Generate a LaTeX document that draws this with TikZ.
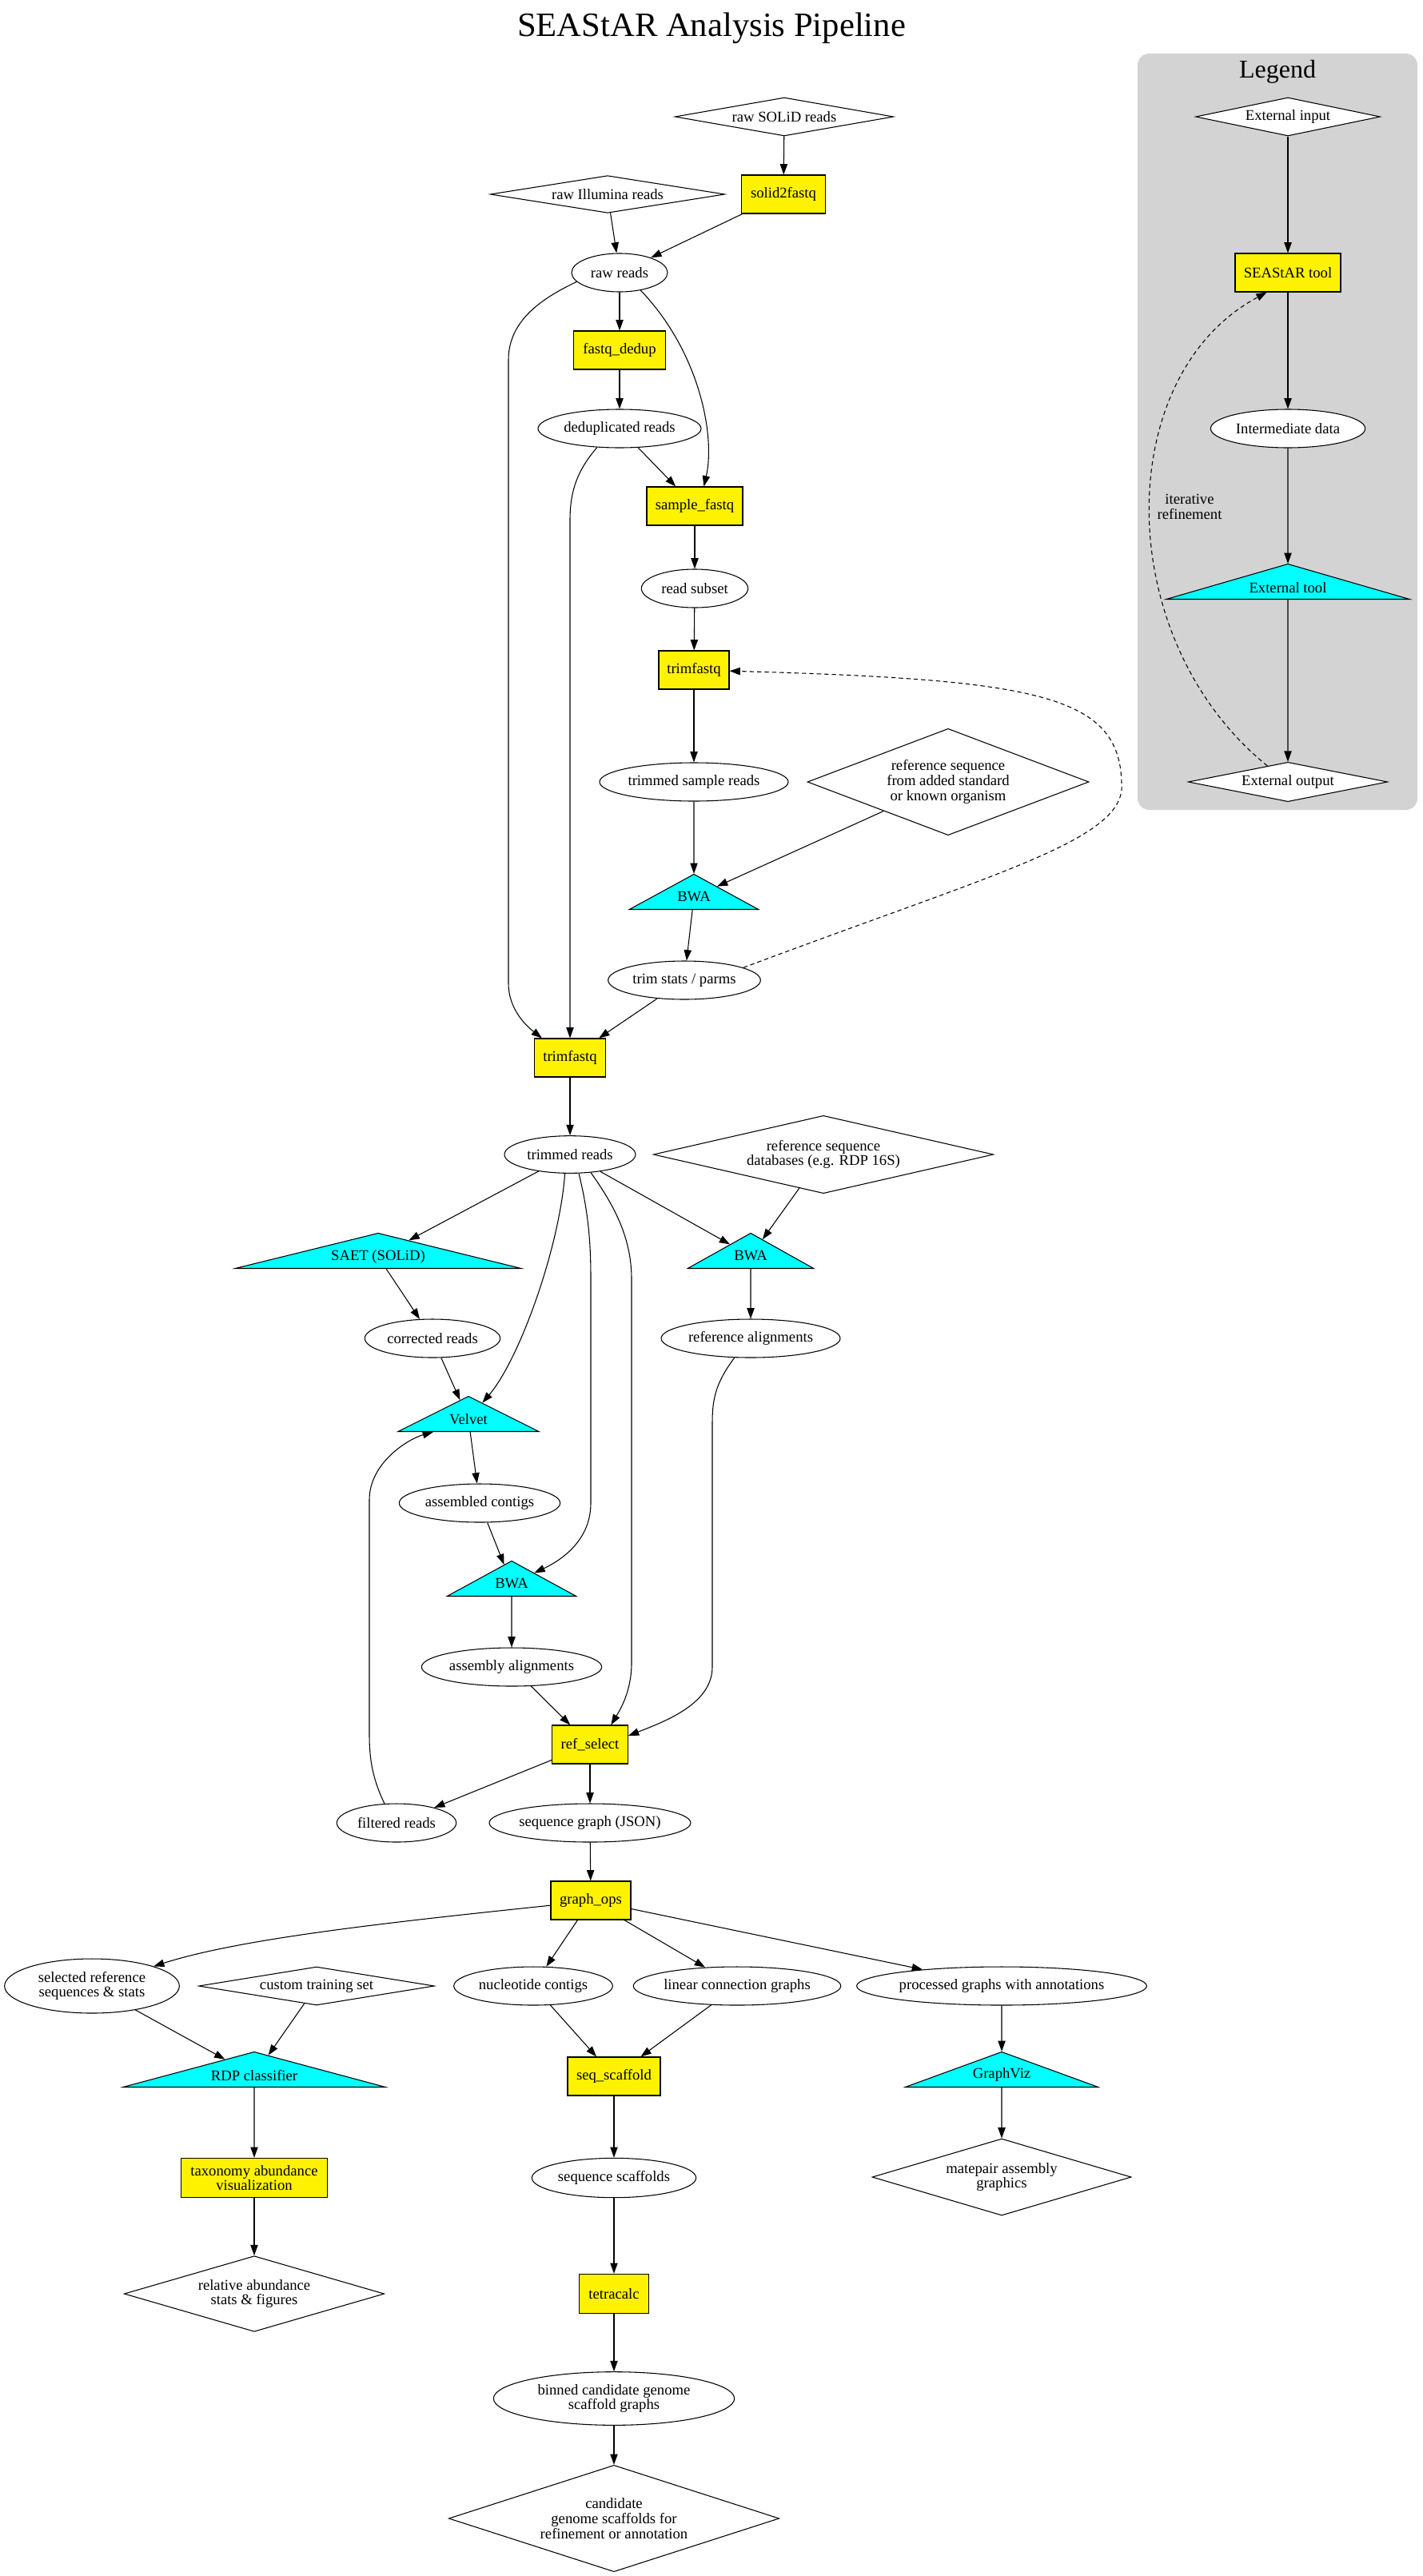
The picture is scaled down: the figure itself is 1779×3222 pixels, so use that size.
\documentclass[tikz,border=0pt]{standalone}
\usepackage{fontspec}
\setmainfont{Liberation Serif}
\usetikzlibrary{shapes.geometric,arrows.meta}
\definecolor{gvcyan}{RGB}{0,255,255}
\definecolor{gvgray}{RGB}{211,211,211}

\begin{document}
\begin{tikzpicture}[
    x=0.75pt, y=0.75pt,
    font=\fontsize{14}{14}\selectfont,
    box/.style={rectangle, draw, fill=yellow, line width=0.8pt, inner sep=0pt, minimum height=36pt, align=center},
    dat/.style={ellipse, draw, fill=white, line width=0.8pt, inner sep=0pt, minimum height=36pt, align=center},
    inout/.style={diamond, draw, fill=white, line width=0.8pt, inner sep=0pt, align=center},
    ext/.style={isosceles triangle, isosceles triangle apex angle=140, isosceles triangle stretches,
        shape border rotate=90, draw, fill=gvcyan, line width=0.8pt, inner sep=0pt,
        minimum height=33pt, anchor=lower side},
    arrow/.style={-{Triangle[length=10pt,width=7pt]}, line width=0.8pt},
    fb/.style={arrow, dash pattern=on 4pt off 3pt}
]
    \useasboundingbox (0,0) rectangle (1779,-3222);

    % Title
    \node[font=\fontsize{32}{32}\selectfont] (title) at (890,-35) {SEAStAR Analysis Pipeline};

    % Legend
    \fill[gvgray, rounded corners=11pt] (1423,-67) rectangle (1773,-1013);
    \node[font=\fontsize{24}{24}\selectfont] (legend) at (1598,-90) {Legend};
    \node[inout, minimum width=173pt, minimum height=36pt, aspect=4.8] (extin) at (1611,-146) {External input};
    \node[box, minimum width=99pt] (seastar) at (1611,-341) {SEAStAR tool};
    \node[dat, minimum width=145pt] (inter) at (1611,-536) {Intermediate data};
    \node[ext, minimum width=228pt] (exttool) at (1611,-750) {External tool};
    \node[inout, minimum width=187pt, minimum height=37pt, aspect=5.05] (extout) at (1611,-978) {External output};
    \node[align=center] (iter) at (1488,-634) {iterative\\refinement};

    % Read preparation
    \node[inout, minimum width=205pt, minimum height=36pt, aspect=5.7] (rawsolid) at (981,-146) {raw SOLiD reads};
    \node[box, minimum width=79pt] (solid2fastq) at (980,-243) {solid2fastq};
    \node[inout, minimum width=220pt, minimum height=35pt, aspect=6.3] (rawillumina) at (760,-243) {raw Illumina reads};
    \node[dat, minimum width=90pt] (raw) at (775,-341) {raw reads};
    \node[box, minimum width=86pt] (dedup) at (775,-438) {fastq\_dedup};
    \node[dat, minimum width=153pt] (dedupreads) at (775,-536) {deduplicated reads};
    \node[box, minimum width=90pt] (sample) at (869,-633) {sample\_fastq};
    \node[dat, minimum width=100pt] (subset) at (869,-736) {read subset};
    \node[box, minimum width=66pt] (trimA) at (868,-838) {trimfastq};
    \node[dat, minimum width=177pt] (trimmedsample) at (868,-978) {trimmed sample reads};
    \node[inout, minimum width=264pt, minimum height=100pt, aspect=2.63] (refseq) at (1186,-978)
        {reference sequence\\from added standard\\or known organism};
    \node[ext, minimum width=121pt] (bwaA) at (868,-1138) {BWA};
    \node[dat, minimum width=143pt] (trimstats) at (856,-1226) {trim stats / parms};
    \node[box, minimum width=67pt] (trimB) at (713,-1323) {trimfastq};
    \node[dat, minimum width=123pt, minimum height=35pt] (trimmed) at (713,-1444) {trimmed reads};
    \node[inout, minimum width=319pt, minimum height=73pt, aspect=4.37] (refdb) at (1030,-1444)
        {reference sequence\\databases (e.g. RDP 16S)};

    % Assembly
    \node[ext, minimum width=268pt] (saet) at (473,-1587) {SAET (SOLiD)};
    \node[ext, minimum width=118pt] (bwaB) at (939,-1587) {BWA};
    \node[dat, minimum width=127pt] (corrected) at (541,-1674) {corrected reads};
    \node[dat, minimum width=168pt] (refalign) at (939,-1674) {reference alignments};
    \node[ext, minimum width=132pt] (velvet) at (586,-1791) {Velvet};
    \node[dat, minimum width=151pt] (assembled) at (600,-1880) {assembled contigs};
    \node[ext, minimum width=121pt] (bwaC) at (640,-1997) {BWA};
    \node[dat, minimum width=169pt] (asmalign) at (640,-2085) {assembly alignments};
    \node[box, minimum width=71pt] (refselect) at (738,-2182) {ref\_select};
    \node[dat, minimum width=112pt] (filtered) at (496,-2280) {filtered reads};
    \node[dat, minimum width=189pt] (seqgraph) at (738,-2280) {sequence graph (JSON)};
    \node[box, minimum width=75pt] (graphops) at (739,-2377) {graph\_ops};

    % Outputs
    \node[dat, minimum width=164pt, minimum height=51pt] (selected) at (115,-2484) {selected reference\\sequences \& stats};
    \node[inout, minimum width=221pt, minimum height=36pt, aspect=6.14] (custom) at (396,-2484) {custom training set};
    \node[dat, minimum width=149pt] (nucleotide) at (667,-2484) {nucleotide contigs};
    \node[dat, minimum width=193pt] (linear) at (922,-2484) {linear connection graphs};
    \node[dat, minimum width=265pt] (processed) at (1253,-2484) {processed graphs with annotations};
    \node[ext, minimum width=246pt] (rdp) at (318,-2611) {RDP classifier};
    \node[box, minimum width=87pt] (seqscaffold) at (768,-2597) {seq\_scaffold};
    \node[ext, minimum width=181pt] (graphviz) at (1253,-2611) {GraphViz};
    \node[box, minimum width=137pt, minimum height=37pt] (taxonomy) at (318,-2724) {taxonomy abundance\\visualization};
    \node[dat, minimum width=154pt, minimum height=37pt] (scaffolds) at (768,-2724) {sequence scaffolds};
    \node[inout, minimum width=243pt, minimum height=72pt, aspect=3.375] (matepair) at (1253,-2723) {matepair assembly\\graphics};
    \node[inout, minimum width=244pt, minimum height=71pt, aspect=3.44] (relative) at (318,-2869) {relative abundance\\stats \& figures};
    \node[box, minimum width=65pt, minimum height=37pt] (tetracalc) at (768,-2869) {tetracalc};
    \node[dat, minimum width=226pt, minimum height=50pt] (binned) at (768,-3000) {binned candidate genome\\scaffold graphs};
    \node[inout, minimum width=310pt, minimum height=100pt, aspect=3.1] (candidate) at (768,-3150)
        {candidate\\genome scaffolds for\\refinement or annotation};

    % Legend arrows
    \draw[arrow] (extin) -- (seastar);
    \draw[arrow] (seastar) -- (inter);
    \draw[arrow] (inter) -- (exttool);
    \draw[arrow] (exttool) -- (extout);
    \draw[fb] (extout.142) .. controls (1390,-800) and (1390,-470) .. (seastar.223);

    % Read preparation arrows
    \draw[arrow] (rawsolid) -- (solid2fastq);
    \draw[arrow] (solid2fastq) -- (raw);
    \draw[arrow] (rawillumina) -- (raw);
    \draw[arrow] (raw) -- (dedup);
    \draw[arrow] (raw.-40) .. controls (875,-440) and (895,-545) .. (sample.65);
    \draw[arrow] (raw.192) .. controls (680,-372) and (636,-400) .. (636,-450) -- (636,-1230)
        .. controls (636,-1262) and (658,-1283) .. (trimB.145);
    \draw[arrow] (dedup) -- (dedupreads);
    \draw[arrow] (dedupreads) -- (sample);
    \draw[arrow] (dedupreads.220) .. controls (725,-585) and (713,-610) .. (713,-650) -- (trimB);
    \draw[arrow] (sample) -- (subset);
    \draw[arrow] (subset) -- (trimA);
    \draw[arrow] (trimA) -- (trimmedsample);
    \draw[arrow] (trimmedsample) -- (bwaA);
    \draw[arrow] (refseq) -- (bwaA);
    \draw[arrow] (bwaA) -- (trimstats);
    \draw[arrow] (trimstats) -- (trimB);
    \draw[fb] (trimstats.12) .. controls (1250,-1090) and (1410,-1050) .. (1403,-979)
        .. controls (1400,-870) and (1300,-850) .. (trimA);
    \draw[arrow] (trimB) -- (trimmed);

    % Assembly arrows
    \draw[arrow] (trimmed) -- (saet);
    \draw[arrow] (trimmed) -- (bwaB);
    \draw[arrow] (refdb) -- (bwaB);
    \draw[arrow] (trimmed.255) .. controls (700,-1560) and (650,-1700) .. (velvet);
    \draw[arrow] (trimmed.295) .. controls (737,-1520) and (739,-1560) .. (739,-1600) -- (739,-1880)
        .. controls (739,-1925) and (705,-1950) .. (bwaC);
    \draw[arrow] (trimmed.319) .. controls (770,-1510) and (790,-1550) .. (790,-1600) -- (790,-2080)
        .. controls (790,-2115) and (776,-2138) .. (refselect.43);
    \draw[arrow] (saet) -- (corrected);
    \draw[arrow] (corrected) -- (velvet);
    \draw[arrow] (bwaB) -- (refalign);
    \draw[arrow] (refalign.230) .. controls (895,-1730) and (891,-1750) .. (891,-1780) -- (891,-2085)
        .. controls (891,-2130) and (835,-2152) .. (refselect.13);
    \draw[arrow] (velvet) -- (assembled);
    \draw[arrow] (assembled) -- (bwaC);
    \draw[arrow] (bwaC) -- (asmalign);
    \draw[arrow] (asmalign) -- (refselect);
    \draw[arrow] (refselect) -- (filtered);
    \draw[arrow] (refselect) -- (seqgraph);
    \draw[arrow] (filtered.122) .. controls (466,-2225) and (462,-2200) .. (462,-2170) -- (462,-1876)
        .. controls (462,-1830) and (510,-1800) .. ([xshift=-33pt]velvet.lower side);
    \draw[arrow] (seqgraph) -- (graphops);

    % Output arrows
    \draw[arrow] (graphops.187) .. controls (480,-2405) and (300,-2425) .. (selected);
    \draw[arrow] (graphops) -- (nucleotide);
    \draw[arrow] (graphops) -- (linear);
    \draw[arrow] (graphops) -- (processed);
    \draw[arrow] (selected) -- (rdp);
    \draw[arrow] (custom) -- (rdp);
    \draw[arrow] (rdp) -- (taxonomy);
    \draw[arrow] (taxonomy) -- (relative);
    \draw[arrow] (nucleotide) -- (seqscaffold);
    \draw[arrow] (linear) -- (seqscaffold);
    \draw[arrow] (seqscaffold) -- (scaffolds);
    \draw[arrow] (scaffolds) -- (tetracalc);
    \draw[arrow] (tetracalc) -- (binned);
    \draw[arrow] (binned) -- (candidate);
    \draw[arrow] (processed) -- (graphviz);
    \draw[arrow] (graphviz) -- (matepair);
\end{tikzpicture}
\end{document}
